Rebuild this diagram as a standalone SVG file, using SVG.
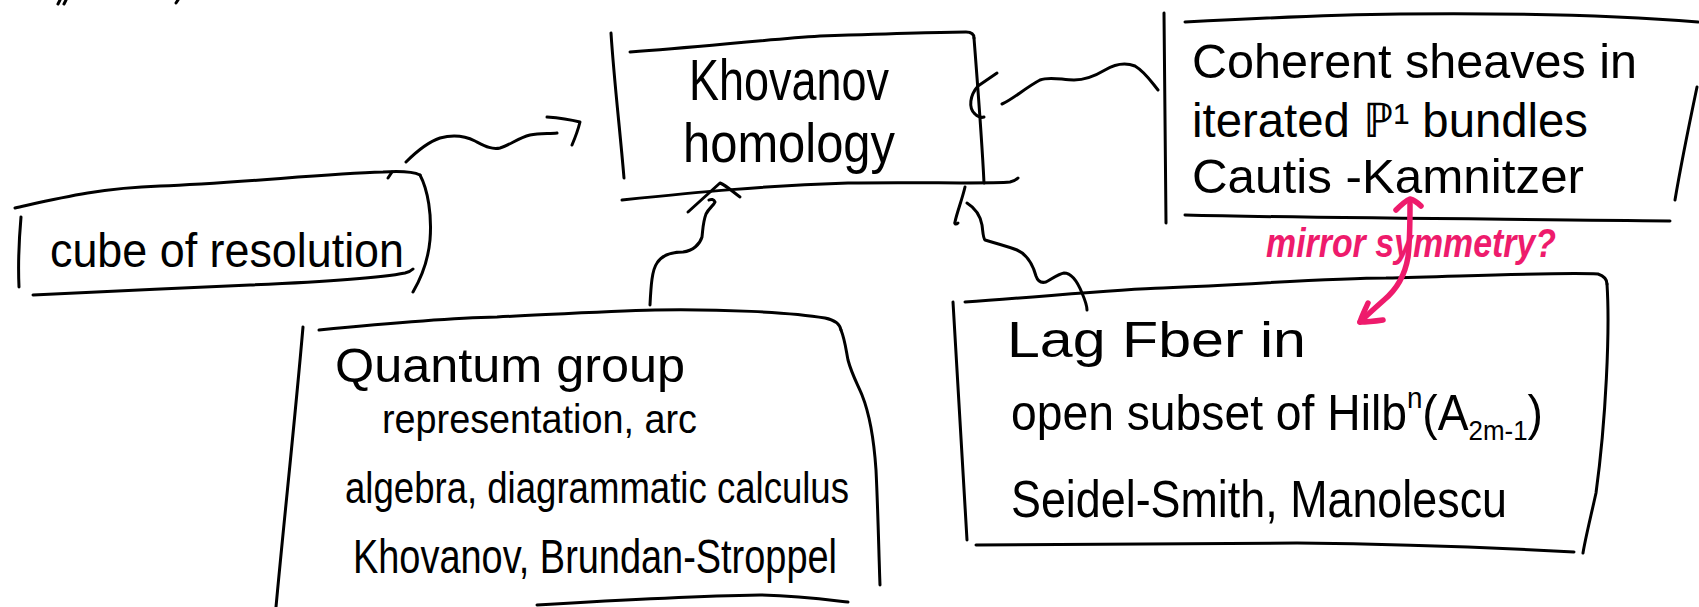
<svg xmlns="http://www.w3.org/2000/svg" width="1699" height="607" viewBox="0 0 1699 607">
  <style>
    .ink { fill: none; stroke: #000; stroke-width: 3; stroke-linecap: round; stroke-linejoin: round; }
    .pink { fill: none; stroke: #ee1b6c; stroke-width: 5.5; stroke-linecap: round; stroke-linejoin: round; }
    .t { font-family: "Liberation Sans", Arial, sans-serif; fill: #000; }
    .pt { font-family: "Liberation Sans", Arial, sans-serif; fill: #ee1b6c; font-weight: bold; font-style: italic; }
  </style>
  <rect width="1699" height="607" fill="#fff"/>

  <!-- stray marks at top edge -->
  <g id="marks">
    <path class="ink" d="M60,0 L58,4 M66,0 L64,4 M178,0 L176,3"/>
  </g>

  <g id="node-cube">
    <path class="ink" d="M15,208 C 60,198 100,188 160,186 C 240,183 320,174 383,172 C 400,171 412,171 420,175"/>
    <path class="ink" d="M392,172 L388,178"/>
    <path class="ink" d="M420,175 C 428,190 432,215 430,240 C 428,262 420,280 413,292"/>
    <path class="ink" d="M33,295 C 100,292 180,288 250,285 C 320,282 380,278 405,273 C 409,272 411,271 413,269"/>
    <path class="ink" d="M21,217 C 19,240 18,265 19,287"/>
    <text class="t" x="50" y="267" font-size="48" textLength="354" lengthAdjust="spacingAndGlyphs">cube of resolution</text>
  </g>

  <g id="node-khovanov">
    <path class="ink" d="M611,33 C 614,80 620,130 624,178"/>
    <path class="ink" d="M630,52 C 700,47 760,40 820,36 C 880,34 940,32 966,32 C 972,32 974,35 974,38"/>
    <path class="ink" d="M974,38 C 978,90 982,140 984,183"/>
    <path class="ink" d="M622,200 C 700,192 760,186 848,183 C 920,182 990,184 1010,182 C 1014,181 1016,180 1018,178"/>
    <text class="t" x="689" y="100" font-size="58" textLength="200" lengthAdjust="spacingAndGlyphs">Khovanov</text>
    <text class="t" x="683" y="162" font-size="56" textLength="212" lengthAdjust="spacingAndGlyphs">homology</text>
  </g>

  <g id="node-coherent">
    <path class="ink" d="M1164,13 C 1164,80 1165,150 1166,223"/>
    <path class="ink" d="M1185,22 C 1260,18 1320,15 1400,14 C 1500,13 1600,14 1698,22"/>
    <path class="ink" d="M1697,87 C 1688,130 1680,170 1675,200"/>
    <path class="ink" d="M1185,215 C 1300,218 1500,219 1670,221"/>
    <text class="t" x="1192" y="78" font-size="48" textLength="445" lengthAdjust="spacingAndGlyphs">Coherent sheaves in</text>
    <text class="t" x="1192" y="137" font-size="48" textLength="396" lengthAdjust="spacingAndGlyphs">iterated ℙ¹ bundles</text>
    <text class="t" x="1192" y="193" font-size="48" textLength="392" lengthAdjust="spacingAndGlyphs">Cautis -Kamnitzer</text>
  </g>

  <g id="node-quantum">
    <path class="ink" d="M303,327 C 295,420 284,520 276,607"/>
    <path class="ink" d="M319,330 C 400,322 450,318 497,317 C 560,314 610,311 655,310 C 720,309 790,312 825,318 C 835,320 840,325 841,330"/>
    <path class="ink" d="M841,330 C 845,340 846,350 848,360 C 852,375 858,385 862,395 C 870,415 874,440 876,470 C 878,510 879,560 880,585"/>
    <path class="ink" d="M537,605 C 620,600 700,596 760,595 C 800,596 830,600 848,602"/>
    <text class="t" x="335" y="382" font-size="48" textLength="350" lengthAdjust="spacingAndGlyphs">Quantum group</text>
    <text class="t" x="382" y="433" font-size="40" textLength="315" lengthAdjust="spacingAndGlyphs">representation, arc</text>
    <text class="t" x="345" y="503" font-size="44" textLength="504" lengthAdjust="spacingAndGlyphs">algebra, diagrammatic calculus</text>
    <text class="t" x="353" y="573" font-size="48" textLength="484" lengthAdjust="spacingAndGlyphs">Khovanov, Brundan-Stroppel</text>
  </g>

  <g id="node-lag">
    <path class="ink" d="M965,302 C 1050,296 1120,289 1163,288 C 1260,284 1330,278 1386,278 C 1470,276 1560,272 1598,274 C 1604,276 1607,279 1607,284"/>
    <path class="ink" d="M1607,284 C 1610,330 1606,420 1596,493 C 1590,520 1585,540 1583,553"/>
    <path class="ink" d="M953,302 C 957,380 962,460 967,540"/>
    <path class="ink" d="M976,545 C 1100,544 1200,543 1297,543 C 1400,544 1500,548 1574,552"/>
    <text class="t" x="1007" y="357" font-size="50" textLength="299" lengthAdjust="spacingAndGlyphs">Lag Fber in</text>
    <text class="t" x="1011" y="430" font-size="50" textLength="532" lengthAdjust="spacingAndGlyphs">open subset of Hilb<tspan font-size="30" dy="-22">n</tspan><tspan dy="22">(A</tspan><tspan font-size="28" dy="10">2m-1</tspan><tspan dy="-10">)</tspan></text>
    <text class="t" x="1011" y="517" font-size="52" textLength="496" lengthAdjust="spacingAndGlyphs">Seidel-Smith, Manolescu</text>
  </g>

  <g id="connectors">
    <!-- cube of resolution -> Khovanov homology -->
    <path class="ink" d="M406,162 C 418,150 428,142 440,138 C 455,134 465,136 475,141 C 485,146 492,150 500,148 C 510,145 518,138 530,135 C 540,133 550,134 557,133"/>
    <path class="ink" d="M547,117 C 560,118 572,120 580,122 C 578,130 575,138 572,145"/>
    <!-- Coherent sheaves -> Khovanov homology -->
    <path class="ink" d="M1158,90 C 1150,80 1145,72 1135,66 C 1125,62 1115,64 1105,70 C 1095,76 1085,80 1074,80 C 1062,80 1050,76 1040,80 C 1025,88 1012,100 1002,104"/>
    <path class="ink" d="M997,73 L978,86 C 970,95 968,108 975,114 C 978,117 981,118 984,117"/>
    <!-- Quantum group -> Khovanov homology -->
    <path class="ink" d="M650,305 C 651,285 652,270 657,263 C 662,255 670,252 683,252 C 693,251 700,244 702,237 C 703,228 703,222 706,214 C 709,208 714,205 715,202 C 714,199 711,199 709,200"/>
    <path class="ink" d="M688,212 L720,183 C 727,186 733,192 740,197"/>
    <!-- Khovanov homology -> Lag Fiber -->
    <path class="ink" d="M965,187 C 962,200 957,212 955,222 C 954,224 956,225 958,223"/>
    <path class="ink" d="M967,203 C 975,208 980,214 982,225 C 983,232 983,238 985,240 C 995,243 1010,247 1017,250 C 1028,255 1033,265 1036,276 C 1038,282 1042,283 1046,282 C 1052,279 1058,274 1064,273 C 1072,273 1078,283 1082,293 C 1085,300 1087,306 1087,310"/>
    <!-- mirror symmetry? (pink, two-headed) -->
    <g id="mirror">
      <path class="pink" d="M1396,210 C 1401,205 1405,201 1410,199 C 1414,200 1418,203 1421,206"/>
      <path class="pink" d="M1410,204 C 1410,222 1410,240 1408,257 C 1405,275 1396,290 1384,300 C 1375,308 1366,316 1360,322"/>
      <path class="pink" d="M1368,303 C 1365,310 1362,316 1360,322 C 1368,322 1376,321 1383,320"/>
      <text class="pt" x="1266" y="257" font-size="40" textLength="290" lengthAdjust="spacingAndGlyphs">mirror symmetry?</text>
    </g>
  </g>
</svg>
